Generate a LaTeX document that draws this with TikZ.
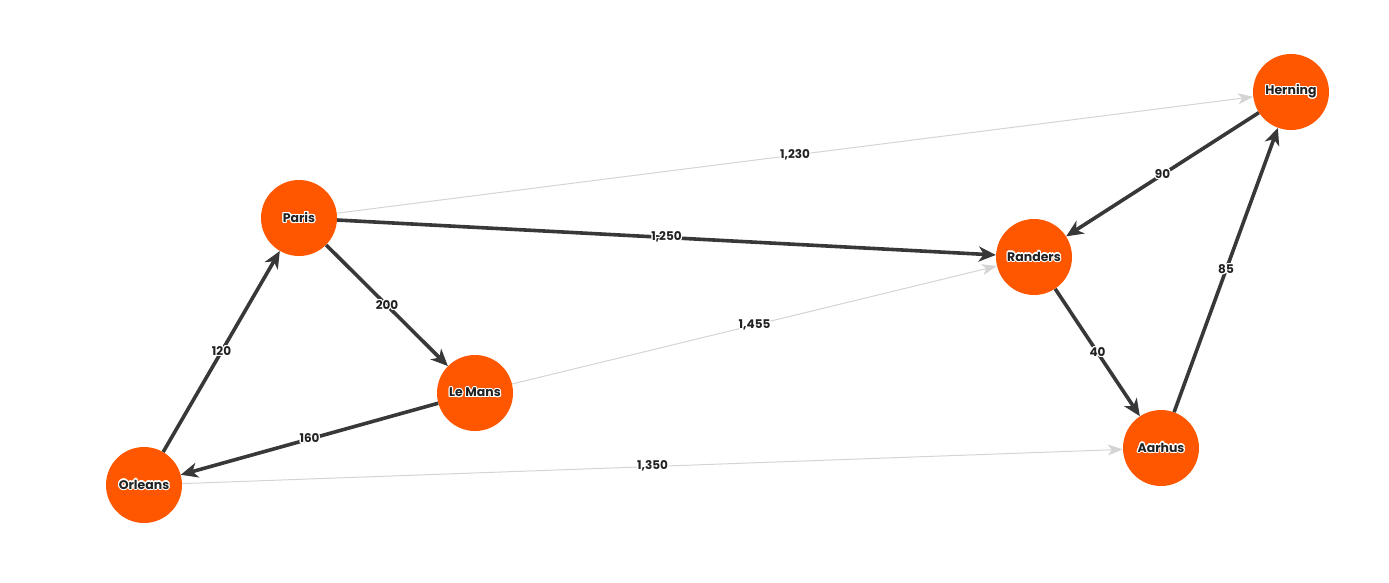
\documentclass[tikz,border=0pt]{standalone}
\usepackage{fontspec}
\setmainfont{Poppins}
\usepackage{contour}
\contourlength{1.1pt}
\usetikzlibrary{arrows.meta}
\definecolor{nodeorange}{HTML}{FF5700}
\definecolor{edgedark}{HTML}{383838}
\definecolor{edgelight}{HTML}{D4D4D4}
\definecolor{labeltext}{HTML}{222222}
\tikzset{
  city/.style={circle, fill=nodeorange, minimum size=76pt, inner sep=0pt,
    font=\fontsize{12.5}{14}\selectfont\bfseries, text=labeltext},
  strong/.style={draw=edgedark, line width=3.6pt,
    -{Stealth[length=17pt, width=15pt, inset=5pt]}},
  faint/.style={draw=edgelight, line width=1pt,
    -{Stealth[length=15pt, width=11pt, inset=4pt]}},
  wlabel/.style={midway, inner sep=0pt, text=labeltext,
    font=\fontsize{12}{14}\selectfont\bfseries},
}
\newcommand{\halo}[1]{\contour{white}{#1}}
\begin{document}
\begin{tikzpicture}[x=1pt,y=-1pt]
\useasboundingbox (0,0) rectangle (1389,583);
\node[city] (paris) at (299,218) {\halo{Paris}};
\node[city] (lemans) at (475,393) {\halo{Le Mans}};
\node[city] (orleans) at (144,485) {\halo{Orleans}};
\node[city] (randers) at (1034,257) {\halo{Randers}};
\node[city] (aarhus) at (1161,448) {\halo{Aarhus}};
\node[city] (herning) at (1291,92) {\halo{Herning}};

\draw[faint] (paris) -- (herning) node[wlabel] {\halo{1,230}};
\draw[faint] (lemans) -- (randers) node[wlabel] {\halo{1,455}};
\draw[faint] (orleans) -- (aarhus) node[wlabel] {\halo{1,350}};

\draw[strong] (paris) -- (randers) node[wlabel] {\halo{1,250}};
\draw[strong] (paris) -- (lemans) node[wlabel] {\halo{200}};
\draw[strong] (lemans) -- (orleans) node[wlabel] {\halo{160}};
\draw[strong] (orleans) -- (paris) node[wlabel] {\halo{120}};
\draw[strong] (randers) -- (aarhus) node[wlabel] {\halo{40}};
\draw[strong] (aarhus) -- (herning) node[wlabel] {\halo{85}};
\draw[strong] (herning) -- (randers) node[wlabel] {\halo{90}};
\end{tikzpicture}
\end{document}
